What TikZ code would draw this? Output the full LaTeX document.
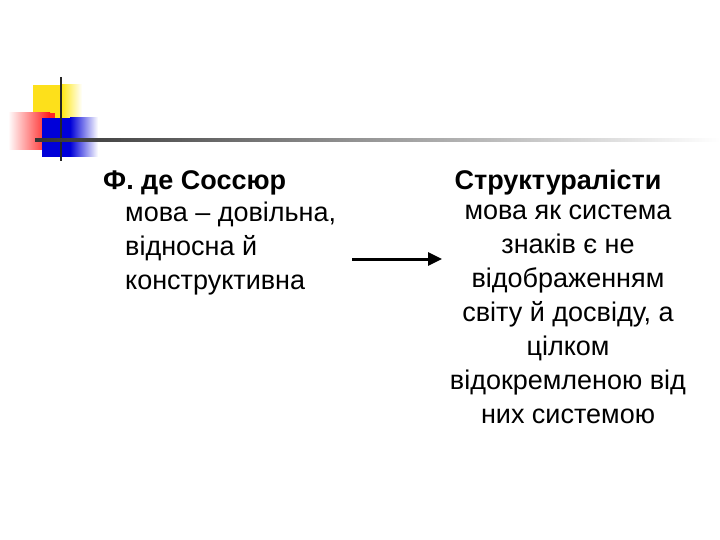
\documentclass[tikz,border=0pt]{standalone}
\usepackage{fontspec}
\setmainfont{Liberation Sans}
\usetikzlibrary{arrows.meta}
\begin{document}
\begin{tikzpicture}[x=1pt,y=-1pt,
  txt/.style={font=\fontsize{27}{34}\selectfont,inner sep=0pt},
  hd/.style={txt,font=\fontsize{27}{34}\selectfont\bfseries}]
\useasboundingbox (0,0) rectangle (720,540);
\fill[yellow!80!orange!90] (33,85) rectangle (62,118);
\shade[left color=yellow!80!orange!90,right color=white] (62,85) rectangle (82,118);
\shade[left color=white,right color=red!90] (8,113) rectangle (50,150);
\fill[red!85] (50,113) rectangle (55,150);
\fill[blue!85!black] (42,118) rectangle (70,157);
\shade[left color=blue!85!black,right color=white] (70,118) rectangle (98,157);
\draw[line width=2.5pt,black!85] (61,77) -- (61,161);
\shade[left color=black!80,right color=white] (35,139) rectangle (720,141.5);
\node[hd,anchor=base west] (h1) at (103,190) {Ф. де Соссюр};
\node[hd,anchor=base] (h2) at (558,190) {Структуралісти};
\node[txt,anchor=north west,align=left] (l) at (125,202) {мова – довільна,\\відносна й\\конструктивна};
\node[txt,anchor=north,align=center] (r) at (568,205) {мова як система\\знаків є не\\відображенням\\світу й досвіду, а\\цілком\\відокремленою від\\них системою};
\coordinate (a1) at (352,259);
\coordinate (a2) at (442,259);
\draw[line width=3pt,-{Triangle[length=14pt,width=13pt]}] (a1) -- (a2);
\end{tikzpicture}
\end{document}
